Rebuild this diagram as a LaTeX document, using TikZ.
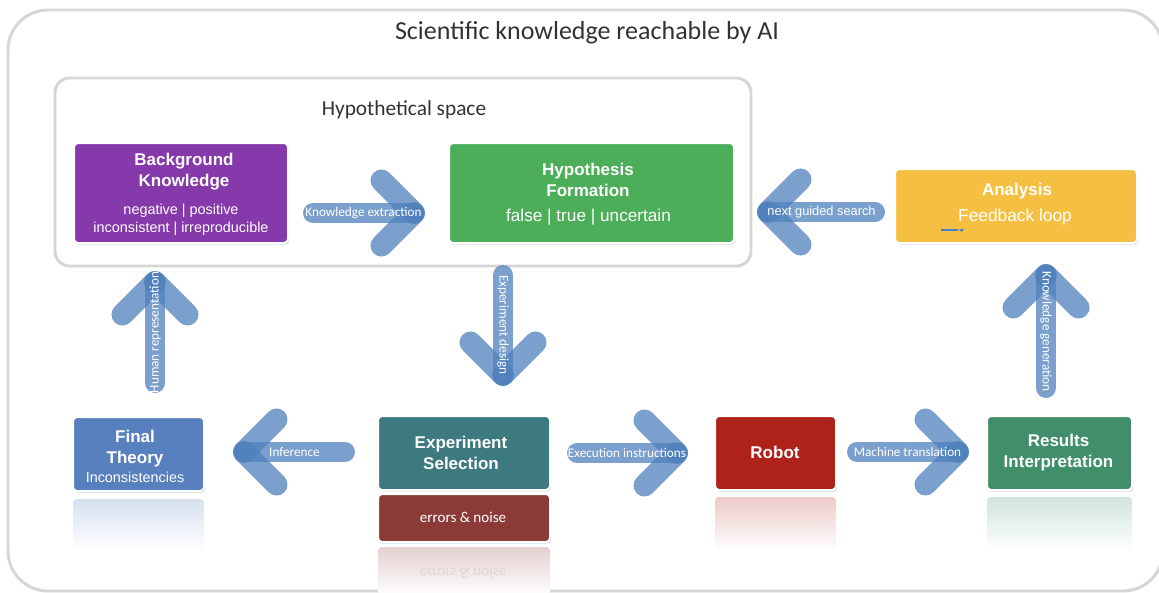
\documentclass[tikz,border=0pt]{standalone}
\usepackage{fontspec}
\setmainfont{Liberation Sans}
\newfontfamily\calib{Carlito}
\usetikzlibrary{shadows}
\definecolor{arrowblue}{RGB}{79,129,189}
\definecolor{titlegray}{RGB}{50,50,50}
\definecolor{bkpurple}{RGB}{133,57,170}
\definecolor{hfgreen}{RGB}{76,174,88}
\definecolor{anyellow}{RGB}{245,192,66}
\definecolor{ftblue}{RGB}{88,128,190}
\definecolor{esteal}{RGB}{60,122,128}
\definecolor{enred}{RGB}{139,58,56}
\definecolor{rbred}{RGB}{174,34,26}
\definecolor{rigreen}{RGB}{64,143,106}
\definecolor{markblue}{RGB}{70,125,215}
\tikzset{
  frame/.style={draw=black!16, line width=2.2pt, fill=white, drop shadow={shadow xshift=0.6pt, shadow yshift=-0.9pt, opacity=0.18}},
  box/.style={rectangle, rounded corners=3pt, draw=white, line width=1.5pt, inner sep=0pt, drop shadow={shadow xshift=0.9pt, shadow yshift=-1.3pt, opacity=0.3}},
  size/.style 2 args={minimum width=#1*0.75pt, minimum height=#2*0.75pt},
  head/.style={text=white, align=center, font=\fontsize{12.75}{15.75}\selectfont\bfseries},
  sub/.style={text=white, align=center, font=\fontsize{10.8}{13.5}\selectfont},
  shaft/.style={draw=arrowblue, opacity=0.75, line width=15pt, line cap=round},
  chevarm/.style={draw=arrowblue, opacity=0.75, line width=16.5pt, line cap=round},
  lbl/.style={text=white, inner sep=0pt, font=\calib\fontsize{9.9}{11}\selectfont},
  mirror/.style={shade, top color=#1!24, bottom color=white, rounded corners=3pt}
}
\newcommand{\bigarrow}[6]{%
  \draw[shaft] (#1) -- (#2);
  \draw[chevarm] (#2) -- +({#3+135}:46);
  \draw[chevarm] (#2) -- +({#3-135}:46);
  \path (#1) -- (#2) node[midway, lbl, rotate=#5] (#6) {#4};
}

\begin{document}
\begin{tikzpicture}[x=0.75pt,y=-0.75pt]
\clip (0,0) rectangle (1159,592);
\fill[white] (0,0) rectangle (1159,592);
\draw[frame, rounded corners=30pt] (8,10) rectangle (1163,591);
\node[text=titlegray, font=\calib\fontsize{19.5}{23}\selectfont] (title) at (587,33) {Scientific knowledge reachable by AI};
\draw[frame, rounded corners=11pt] (55,78) rectangle (751,266);
\node[text=titlegray, font=\calib\fontsize{16}{19}\selectfont] (hyp) at (404,110) {Hypothetical space};

\node[box, fill=bkpurple, size={214}{100}] (bk) at (181,193) {};
\node[head] (bkh) at (184,171.5) {Background\\Knowledge};
\node[sub] (bks) at (181,220) {negative | positive\\inconsistent | irreproducible};

\node[box, fill=hfgreen, size={285}{100}] (hf) at (591.5,193) {};
\node[head] (hfh) at (588,179.5) {Hypothesis\\Formation};
\node[text=white, font=\fontsize{12.9}{15}\selectfont] (hfs) at (588.5,217) {false | true | uncertain};

\node[box, fill=anyellow, size={242}{74}] (an) at (1016,206) {};
\node[head] (anh) at (1017,191) {Analysis};
\node[text=white, font=\fontsize{13}{15}\selectfont] (ans) at (1015,217) {Feedback loop};
\fill[markblue] (941,228.5) rectangle (958,231);
\fill[markblue] (959,229) -- (964,229) -- (961.5,232) -- cycle;

\shade[mirror=ftblue] (73,499) rectangle (204,551);
\node[box, fill=ftblue, size={131}{74}] (ft) at (138.5,454) {};
\node[head] (fth) at (135,448.5) {Final\\Theory};
\node[sub] (fts) at (135,477) {Inconsistencies};

\node[box, fill=esteal, size={172}{74}] (es) at (464,453) {};
\node[head] (esh) at (461,453) {Experiment\\Selection};
\shade[mirror=enred] (378,547) rectangle (550,595);
\node[box, fill=enred, size={172}{48}] (en) at (464,518) {};
\node[text=white, font=\calib\fontsize{11.3}{13}\selectfont] (ens) at (463,517) {errors \& noise};
\node[text=enred!22, yscale=-1, font=\calib\fontsize{11.3}{13}\selectfont] (enm) at (463,574) {errors \& noise};

\shade[mirror=rbred] (715,497) rectangle (836,551);
\node[box, fill=rbred, size={121}{74}] (rb) at (775.5,453) {};
\node[head] (rbh) at (775,452) {Robot};

\shade[mirror=rigreen] (987,497) rectangle (1132,551);
\node[box, fill=rigreen, size={145}{74}] (ri) at (1059.5,453) {};
\node[head] (rih) at (1058.5,453) {Results\\Interpretation};

\coordinate (ke1) at (313,213);
\coordinate (ke2) at (414,213);
\coordinate (ng1) at (875,212);
\coordinate (ng2) at (768,212);
\coordinate (ed1) at (503,275);
\coordinate (ed2) at (503,375);
\coordinate (hr1) at (155,383);
\coordinate (hr2) at (155,282);
\coordinate (kg1) at (1046,388);
\coordinate (kg2) at (1046,275);
\coordinate (in1) at (345,452);
\coordinate (in2) at (244,452);
\coordinate (ei1) at (577,453);
\coordinate (ei2) at (677,453);
\coordinate (mt1) at (857,452);
\coordinate (mt2) at (958,452);

\bigarrow{ke1}{ke2}{0}{Knowledge extraction}{0}{kel}
\bigarrow{ng1}{ng2}{180}{\fontsize{9.6}{11}\rmfamily next guided search}{0}{ngl}
\bigarrow{ed1}{ed2}{90}{Experiment design}{-90}{edl}
\bigarrow{hr1}{hr2}{270}{Human representation}{90}{hrl}
\bigarrow{kg1}{kg2}{270}{Knowledge generation}{-90}{kgl}
\bigarrow{in1}{in2}{180}{Inference}{0}{inl}
\bigarrow{ei1}{ei2}{0}{Execution instructions}{0}{eil}
\bigarrow{mt1}{mt2}{0}{Machine translation}{0}{mtl}
\end{tikzpicture}
\end{document}
